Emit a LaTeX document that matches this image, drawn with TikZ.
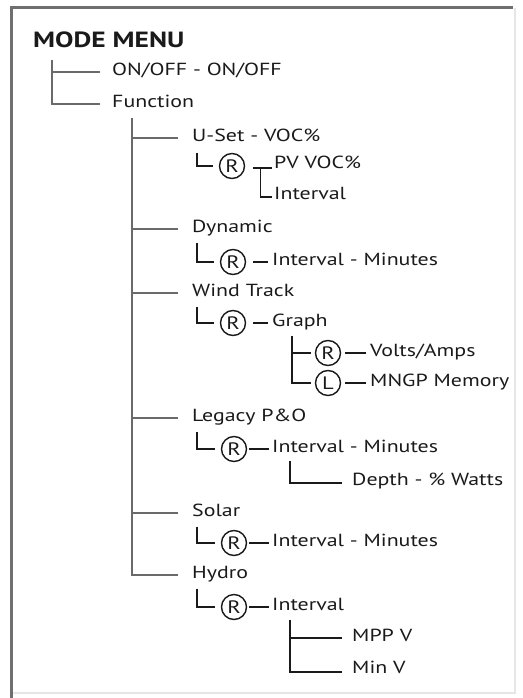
\documentclass[tikz,border=0pt]{standalone}
\usepackage{fontspec}
\setmainfont{PT Sans}[FakeStretch=1.25]
\usetikzlibrary{calc}
\definecolor{txt}{HTML}{1A1A1A}
\definecolor{trunkc}{HTML}{6A6A6A}
\definecolor{framec}{HTML}{6F6F6F}
\definecolor{faint}{HTML}{E6E6E6}
\begin{document}
\begin{tikzpicture}[x=1pt,y=-1pt,
  lbl/.style={anchor=west, inner sep=0pt, text height=0.7em, text depth=0pt, font=\fontsize{17.5}{20}\selectfont, text=txt},
  trunk/.style={draw=trunkc, line width=2.6pt},
  thinl/.style={draw=txt, line width=1.4pt},
  rc/.style={circle, draw=txt, line width=1.4pt, minimum size=25pt, inner sep=0pt, text=txt, font=\fontsize{18}{18}\selectfont}
]
\useasboundingbox[fill=white] (0,0) rectangle (522,698);
% frame
\draw[faint, line width=1.5pt] (515,8) -- (515,693) -- (11,693);
\draw[framec, line width=3pt] (11,698) -- (11,8) -- (513,8);

% title and first level
\node[anchor=base west, inner sep=0pt, font=\bfseries\fontsize{22}{24}\selectfont, text=txt] (title) at (33,48) {MODE MENU};
\node[lbl] (on) at (112,72) {ON/OFF - ON/OFF};
\node[lbl] (fn) at (112,104) {Function};
\coordinate (t1) at (52,60);
\draw[trunk] (t1) |- ([xshift=-12pt]fn.west);
\draw[trunk] (on.west -| t1) -- ([xshift=-12pt]on.west);

% second level
\node[lbl] (uset) at (192,138) {U-Set - VOC\%};
\node[lbl] (dyn) at (192,229) {Dynamic};
\node[lbl] (wind) at (192,293) {Wind Track};
\node[lbl] (leg) at (192,418) {Legacy P\&O};
\node[lbl] (sol) at (192,513) {Solar};
\node[lbl] (hyd) at (192,575) {Hydro};
\coordinate (t2) at ($(fn.south west)+(20,10)$);
\draw[trunk] (t2) |- ([xshift=-14pt]hyd.west);
\foreach \n in {uset,dyn,wind,leg,sol}
  \draw[trunk] (\n.west -| t2) -- ([xshift=-14pt]\n.west);

% U-Set
\node[rc] (r1) at (232,166) {R};
\node[lbl] (pv) at (274,165) {PV VOC\%};
\node[lbl] (uint) at (274,196) {Interval};
\draw[thinl] ($(uset.south west)+(5,11)$) |- ([xshift=-6pt]r1.west);
\draw[thinl] ([xshift=8pt,yshift=-2pt]r1.east) -- ([xshift=-2pt,yshift=-3pt]pv.west);
\draw[thinl] ($(r1.east)+(15,2)$) |- ([xshift=-2pt,yshift=-1pt]uint.west);

% Dynamic
\node[rc] (r2) at (233,262) {R};
\node[lbl] (dint) at (272,262) {Interval - Minutes};
\draw[thinl] ($(dyn.south west)+(5,10)$) |- ([xshift=-6pt]r2.west);
\draw[thinl] ([xshift=7pt]r2.east) -- ([xshift=-4pt]dint.west);

% Wind Track
\node[rc] (r3) at (233,323) {R};
\node[lbl] (graph) at (272,323) {Graph};
\draw[thinl] ($(wind.south west)+(5,10)$) |- ([xshift=-6pt]r3.west);
\draw[thinl] ([xshift=7pt]r3.east) -- ([xshift=-4pt]graph.west);
\node[rc] (r4) at (328,353) {R};
\node[rc] (r5) at (328,383) {L};
\node[lbl] (va) at (370,353) {Volts/Amps};
\node[lbl] (mngp) at (370,383) {MNGP Memory};
\coordinate (g1) at ($(graph.south west)+(20,9)$);
\draw[thinl] (g1) |- ([xshift=-4pt]r5.west);
\draw[thinl] (r4.west -| g1) -- ([xshift=-4pt]r4.west);
\draw[thinl] ([xshift=4pt]r4.east) -- ([xshift=-4pt]va.west);
\draw[thinl] ([xshift=4pt]r5.east) -- ([xshift=-4pt]mngp.west);

% Legacy P&O
\node[rc] (r6) at (234,449) {R};
\node[lbl] (lint) at (272,449) {Interval - Minutes};
\node[lbl] (depth) at (352,482) {Depth - \% Watts};
\draw[thinl] ($(leg.south west)+(5,10)$) |- ([xshift=-6pt]r6.west);
\draw[thinl] ([xshift=2pt]r6.east) -- ([xshift=-3pt]lint.west);
\draw[thinl] ($(lint.south west)+(18,8)$) |- ([xshift=-10pt,yshift=-1pt]depth.west);

% Solar
\node[rc] (r7) at (234,543) {R};
\node[lbl] (sint) at (272,543) {Interval - Minutes};
\draw[thinl] ($(sol.south west)+(5,10)$) |- ([xshift=-6pt]r7.west);
\draw[thinl] ([xshift=2pt]r7.east) -- ([xshift=-3pt]sint.west);

% Hydro
\node[rc] (r8) at (234,607) {R};
\node[lbl] (hint) at (272,607) {Interval};
\node[lbl] (mpp) at (352,638) {MPP V};
\node[lbl] (minv) at (352,670) {Min V};
\draw[thinl] ($(hyd.south west)+(5,10)$) |- ([xshift=-6pt]r8.west);
\draw[thinl] ([xshift=2pt]r8.east) -- ([xshift=-3pt]hint.west);
\coordinate (h1) at ($(hint.south west)+(18,9)$);
\draw[thinl] (h1) |- ([xshift=-10pt,yshift=-2pt]minv.west);
\draw[thinl] (mpp.west -| h1) -- ([xshift=-10pt]mpp.west);
\end{tikzpicture}
\end{document}
